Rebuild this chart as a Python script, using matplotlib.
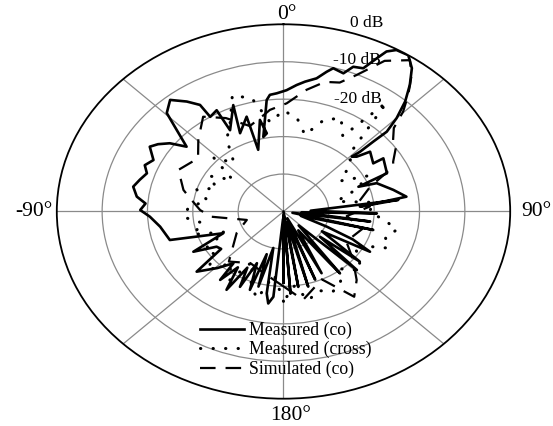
import matplotlib.pyplot as plt
import numpy as np
from matplotlib.ticker import FixedLocator

plt.rcParams['font.family'] = ['Liberation Serif', 'DejaVu Serif']

# Measured co-polar pattern (angle in deg, level in dB)
co_ang = [-180, -177, -174.4, -172.2, -170.4, -167, -164.6, -162, -160.5, -157,
          -154.5, -152, -149, -146, -142.6, -141.4, -136, -130, -126, -122.5,
          -118.4, -113.6, -106.9, -98.5, -92.7, -89.3, -86, -83, -78.7, -75,
          -71.3, -68, -64.4, -59.6, -57, -54, -51, -47.3, -44.4, -40,
          -36, -32.9, -32.6, -28.6, -28.5, -21.3, -24.6, -17.8, -18.7, -12,
          -10, -12.6, -7.1, -5.5, -2.7, 1.2, 4.9, 7.8, 11.6, 14.3,
          16, 19.7, 21.7, 24.7, 26.7, 28, 30, 33.4, 36.5, 39.5,
          42.4, 45, 46.9, 46.7, 46.6, 45.8, 47.8, 50.1, 57, 57.2,
          65.9, 68.2, 69.8, 76.6, 81.7, 85.6, 83, 88, 91.4, 93,
          98, 100, 104, 107, 113, 116, 119.4, 122, 128.5, 130,
          134, 138, 143, 143.5, 147, 153, 155, 159, 161, 164.8,
          167, 170.8, 174, 176, 178, 180]
co_db = [-31, -48, -27.1, -25.2, -27.8, -40, -29.2, -38, -27.8, -35,
         -27.7, -33, -25.6, -32, -27, -32.3, -29, -25, -33, -32.5,
         -27.4, -35.5, -23.8, -22.5, -20.5, -18.4, -19.5, -17.4, -16.2, -17.2,
         -18.2, -17, -18.2, -15.8, -17, -19, -22.5, -18, -13.2, -11.1,
         -13.7, -16.1, -20, -19.2, -25.3, -19.5, -27, -23.4, -32.6, -25,
         -28.8, -29.6, -20, -18.7, -18.4, -17.6, -16.1, -15, -13.7, -11.5,
         -10.2, -10.8, -8.4, -7.9, -4.2, -1.6, -0.2, 0, -2.4, -6.2,
         -10.2, -14.7, -18.8, -22.8, -26.8, -29, -28.2, -25.1, -26.4, -23.8,
         -25, -32.2, -28.1, -25.1, -22.6, -33.1, -24.5, -44, -29.4, -46,
         -30.7, -48, -29.6, -46, -39.6, -33, -28.1, -40, -28.5, -39.5,
         -27.5, -45, -29.3, -32.8, -44, -31.5, -48, -30.5, -46, -29.2,
         -47, -29.6, -50, -28, -49, -31]

# Measured cross-polar pattern
cx_ang = [-180, -173, -166, -160, -153, -147, -140, -133, -127, -120,
          -113, -107, -100, -94, -87, -80, -73, -67, -60, -53,
          -47, -40, -33, -27, -20, -13, -7, 0, 7, 13,
          20, 27, 33, 38, 43, 50, 57, 63, 70, 77,
          83, 90, 97, 101, 107, 113, 120, 127, 133, 140,
          147, 153, 160, 167, 173, 180]
cx_db = [-26, -33, -26, -29, -35, -28, -32, -27, -31, -30,
         -36, -29, -32, -28, -29, -33, -30, -34, -31, -36,
         -29, -33, -27, -24, -17, -19, -26, -23, -25, -29,
         -24, -22, -26, -13, -28, -31, -35, -29, -33, -38,
         -30, -31, -27, -24.5, -26.5, -25, -32, -29, -27, -30,
         -27, -26, -27.5, -25.6, -30, -26]

# Simulated co-polar pattern
sim_ang = [-180, -165, -152, -138, -119, -105.6, -95, -88.8, -80, -75.4,
           -64.4, -53, -44.5, -35, -27, -18, -10, -6.3, 1.4, 8.9,
           14.8, 19.8, 23.9, 29, 34.6, 37.8, 41.5, 44.7, 47.5, 51.7,
           53.9, 61.2, 63.7, 71, 79.7, 83.8, 86, 95, 105, 120,
           130, 138.6, 145.6, 155, 169.6, 180]
sim_db = [-30, -33, -34.4, -32, -38.2, -41.6, -34, -31.6, -29, -27.2,
          -24.3, -26.4, -23.2, -19.1, -22, -26, -24, -22.7, -21.1, -17.1,
          -14.2, -13.4, -10.1, -4, -0.9, -3.9, -8.5, -12.5, -17, -19.2,
          -19.1, -22.4, -23, -29.8, -32.8, -33.8, -30.9, -36, -32, -34,
          -30, -25.6, -22.4, -30, -26, -30]

fig = plt.figure(figsize=(5.53, 4.26), dpi=100)
ax = fig.add_axes([0.1027, 0.0641, 0.8199, 0.8789], projection='polar')
ax.set_aspect('auto')
ax.set_theta_zero_location('N')
ax.set_theta_direction(-1)
ax.set_rlim(-50, 0)

ax.plot(np.radians(co_ang), co_db, color='black', lw=1.9,
        label='Measured (co)')
ax.plot(np.radians(cx_ang), cx_db, color='black', lw=2.2,
        linestyle=(0, (0.1, 4)), dash_capstyle='round',
        label='Measured (cross)')
ax.plot(np.radians(sim_ang), sim_db, color='black', lw=1.6,
        linestyle=(0, (7, 4.5)), label='Simulated (co)')

# grid: rings every 10 dB, spokes every 45 deg
ax.set_yticks([-40, -30, -20, -10])
ax.set_yticklabels([])
ax.set_xticks(np.radians(np.arange(0, 360, 45)))
ax.set_xticklabels([])
ax.xaxis.set_minor_locator(FixedLocator(np.radians(np.arange(22.5, 360, 45))))
ax.tick_params(axis='x', which='major', direction='in', length=7,
               width=1.0, color='black')
ax.tick_params(axis='x', which='minor', direction='in', length=5,
               width=0.8, color='#555555')
ax.grid(True, color='#8a8a8a', lw=0.9)
ax.spines['polar'].set_linewidth(1.3)
ax.spines['polar'].set_color('black')

for txt, x, y in [('0°', 0.508, 1.025), ('180°', 0.515, -0.044),
                  ('-90°', -0.050, 0.5), ('90°', 1.058, 0.5)]:
    ax.text(x, y, txt, transform=ax.transAxes, ha='center', va='center',
            fontsize=15.5)

for txt, x, y in [('0 dB', 0.684, 1.003), ('-10 dB', 0.662, 0.905),
                  ('-20 dB', 0.664, 0.801)]:
    ax.text(x, y, txt, transform=ax.transAxes, ha='center', va='center',
            fontsize=12.5)

ax.legend(loc='upper left', bbox_to_anchor=(0.3617, 0.2448),
          bbox_transform=fig.transFigure, frameon=False, fontsize=12.8,
          borderpad=0, borderaxespad=0, handlelength=2.45,
          handletextpad=0.29, labelspacing=0.12)

fig.savefig('out.png', dpi=100)
